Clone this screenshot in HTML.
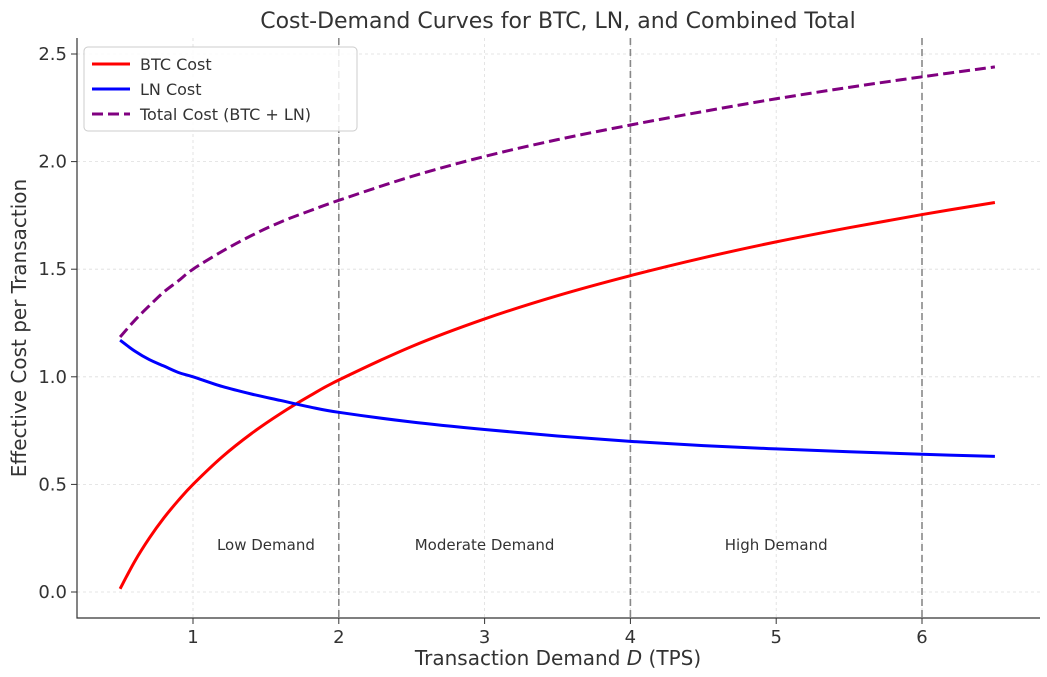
<!DOCTYPE html>
<html><head><meta charset="utf-8"><style>
body{margin:0;background:#fff;font-family:"Liberation Sans","DejaVu Sans",sans-serif}
svg text{font-family:"DejaVu Sans","Liberation Sans",sans-serif;fill:#333}
</style></head><body>
<svg id="chart" width="1047" height="672" xmlns="http://www.w3.org/2000/svg">
<g id="grid"></g><g id="marks"></g><g id="axes"></g>
</svg>
<script>
const demand=[0.5,0.6,0.7,0.8,0.9,1,1.2,1.4,1.6,1.8,2,2.5,3,3.5,4,4.5,5,5.5,6,6.5];
const btcCost=[0.015,0.142,0.250,0.344,0.426,0.5,0.628,0.736,0.829,0.911,0.985,1.141,1.269,1.377,1.470,1.553,1.627,1.693,1.754,1.810];
const lnCost=[1.17,1.12,1.08,1.05,1.02,1.0,0.955,0.92,0.89,0.86,0.835,0.79,0.755,0.725,0.70,0.68,0.665,0.652,0.64,0.63];
const totalCost=[1.185,1.262,1.330,1.394,1.446,1.5,1.583,1.656,1.719,1.771,1.820,1.931,2.024,2.102,2.170,2.233,2.292,2.345,2.394,2.440];
const xTicks=[1,2,3,4,5,6];
const yTicks=[0.0,0.5,1.0,1.5,2.0,2.5];
const regionLines=[2,4,6];
const regionLabels=["Low Demand","Moderate Demand","High Demand"];
const regionLabelX=[1.5,3,5];

const X=d=>47.2+145.8*d, Y=v=>592-215.2*v;
const L=77,R=1040,T=38,B=618;
const NS="http://www.w3.org/2000/svg";
function mk(p,tag,attrs,txt){const e=document.createElementNS(NS,tag);for(const k in attrs)e.setAttribute(k,attrs[k]);if(txt!==undefined)e.textContent=txt;p.appendChild(e);return e;}
const svg=document.getElementById('chart'),grid=document.getElementById('grid'),marks=document.getElementById('marks'),axes=document.getElementById('axes');

xTicks.forEach(t=>{
 const g=mk(grid,'line',{x1:X(t),x2:X(t),y1:T,y2:B,stroke:'#ddd','stroke-dasharray':'3,3','stroke-width':0.8});
 
 const tk=mk(axes,'line',{x1:X(t),x2:X(t),y1:B,y2:B+6,stroke:'#333'});
 
 const lb=mk(axes,'text',{x:X(t),y:B+25,'text-anchor':'middle','font-size':18},String(t));
 
});
yTicks.forEach(t=>{
 const g=mk(grid,'line',{x1:L,x2:R,y1:Y(t),y2:Y(t),stroke:'#ddd','stroke-dasharray':'3,3','stroke-width':0.8});
 
 const tk=mk(axes,'line',{x1:L-6,x2:L,y1:Y(t),y2:Y(t),stroke:'#333'});
 
 const lb=mk(axes,'text',{x:L-10,y:Y(t)+6,'text-anchor':'end','font-size':18},t.toFixed(1));
 
});
regionLines.forEach(d=>{
 const l=mk(marks,'line',{x1:X(d),x2:X(d),y1:T,y2:B,stroke:'#888','stroke-dasharray':'7,4','stroke-width':1.6});
 
});
regionLabels.forEach((s,i)=>{
 const t=mk(marks,'text',{x:X(regionLabelX[i]),y:550,'text-anchor':'middle','font-size':15},s);
 
});
function path(vals){
 const pts=demand.map((d,i)=>[X(d),Y(vals[i])]);
 let s='M'+pts[0][0]+','+pts[0][1];
 for(let i=0;i<pts.length-1;i++){
  const p0=pts[Math.max(0,i-1)],p1=pts[i],p2=pts[i+1],p3=pts[Math.min(pts.length-1,i+2)];
  const c1=[p1[0]+(p2[0]-p0[0])/6,p1[1]+(p2[1]-p0[1])/6],c2=[p2[0]-(p3[0]-p1[0])/6,p2[1]-(p3[1]-p1[1])/6];
  s+=`C${c1[0]},${c1[1]} ${c2[0]},${c2[1]} ${p2[0]},${p2[1]}`;
 }
 return s;
}
const pb=mk(marks,'path',{d:path(btcCost),fill:'none',stroke:'#ff0000','stroke-width':3});

const pl=mk(marks,'path',{d:path(lnCost),fill:'none',stroke:'#0000ff','stroke-width':3});

const pt=mk(marks,'path',{d:path(totalCost),fill:'none',stroke:'#800080','stroke-width':3,'stroke-dasharray':'11,5'});


const ax=mk(axes,'path',{d:`M${L},${T} L${L},${B} L${R},${B}`,fill:'none',stroke:'#333','stroke-width':1.2});

const ti=mk(axes,'text',{x:558,y:28,'text-anchor':'middle','font-size':22},'Cost-Demand Curves for BTC, LN, and Combined Total');

const xt=mk(axes,'text',{x:558,y:665,'text-anchor':'middle','font-size':20});

xt.innerHTML='Transaction Demand <tspan font-style="italic">D</tspan> (TPS)';
const yt=mk(axes,'text',{x:26,y:328,'text-anchor':'middle','font-size':20,transform:'rotate(-90 26 328)'},'Effective Cost per Transaction');


const lg=mk(axes,'g',{});

mk(lg,'rect',{x:84,y:47,width:273,height:84,rx:4,fill:'#fff','fill-opacity':0.85,stroke:'#ccc'});
const items=[['BTC Cost','#ff0000',''],['LN Cost','#0000ff',''],['Total Cost (BTC + LN)','#800080','11,5']];
items.forEach((it,i)=>{
 const y=64+i*25;
 const e=mk(lg,'g',{});
 
 mk(e,'line',{x1:92,x2:130,y1:y,y2:y,stroke:it[1],'stroke-width':3,'stroke-dasharray':it[2]||'none'});
 mk(e,'text',{x:140,y:y+6,'font-size':16},it[0]);
});
</script>
</body></html>
